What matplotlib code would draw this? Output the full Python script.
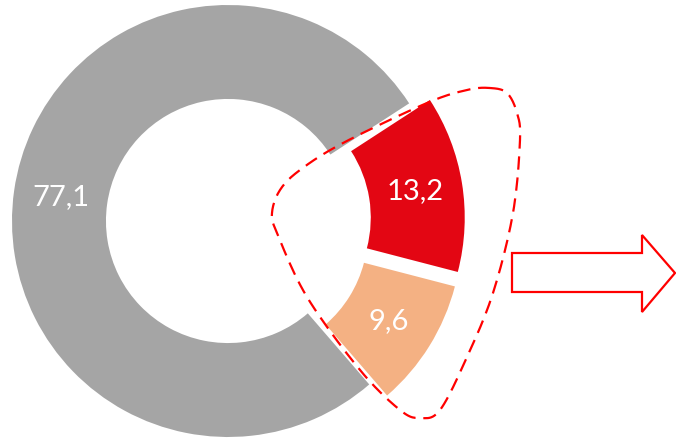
import matplotlib.pyplot as plt
import numpy as np
from matplotlib.patches import Polygon

# data
values = [13.2, 9.6, 77.1]
colors = ['#E30613', '#F4B183', '#A5A5A5']
explode = [21, 21, 0]  # pixels (pie uses absolute units for explode)

W, H = 676, 440
fig = plt.figure(figsize=(W / 100, H / 100), dpi=100)
ax = fig.add_axes([0, 0, 1, 1])

# donut, centre/radius in pixel units (y up)
cx, cy, R = 228, 219, 216
wedges, texts, autotexts = ax.pie(
    values, colors=colors, explode=explode, startangle=33, counterclock=False,
    center=(cx, cy), radius=R, frame=True,
    wedgeprops=dict(width=R * 0.435, edgecolor='none'),
    autopct=lambda p: ('%.1f' % (p * sum(values) / 100)).replace('.', ','),
    pctdistance=0.78,
    textprops=dict(color='white', fontsize=21, family=['Lato', 'DejaVu Sans']))
ax.set_xlim(0, W)
ax.set_ylim(0, H)
ax.set_aspect('equal')
ax.axis('off')

# dashed outline round the two exploded slices (Catmull-Rom through points)
pts = np.array([(490, 88), (507, 93), (517, 113), (520, 140), (513, 213),
                (493, 293), (467, 357), (440, 410), (420, 418), (400, 410),
                (360, 370), (307, 297), (277, 233), (272, 213), (280, 190),
                (300, 170), (343, 143), (427, 103), (467, 90)], dtype=float)
pts[:, 1] = H - pts[:, 1]
n = len(pts)
curve = []
for i in range(n):
    p0, p1, p2, p3 = pts[i - 1], pts[i], pts[(i + 1) % n], pts[(i + 2) % n]
    for t in np.linspace(0, 1, 12, endpoint=False):
        t2, t3 = t * t, t * t * t
        curve.append(0.5 * (2 * p1 + (-p0 + p2) * t + (2 * p0 - 5 * p1 + 4 * p2 - p3) * t2
                            + (-p0 + 3 * p1 - 3 * p2 + p3) * t3))
curve = np.array(curve + [curve[0]])
ax.plot(curve[:, 0], curve[:, 1], color='#FF0000', lw=1.6, ls=(0, (6, 3.5)))

# block arrow
arrow = np.array([(512, 253), (642, 253), (642, 235), (675, 273),
                  (642, 312), (642, 292), (512, 292)], dtype=float)
arrow[:, 1] = H - arrow[:, 1]
ax.add_patch(Polygon(arrow, closed=True, facecolor='white', edgecolor='#FF0000', lw=1.6))

fig.savefig('out.png', dpi=100)
